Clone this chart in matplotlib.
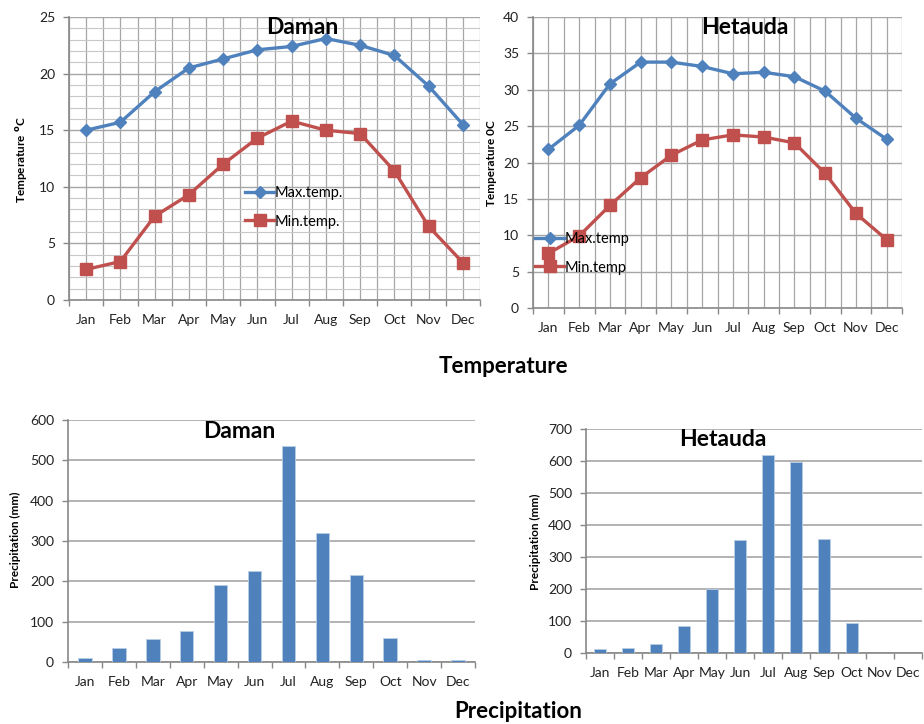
import matplotlib
matplotlib.use("Agg")
import matplotlib.pyplot as plt
from matplotlib.lines import Line2D
import numpy as np

plt.rcParams['font.family'] = ['Lato', 'DejaVu Sans']

months = ["Jan", "Feb", "Mar", "Apr", "May", "Jun", "Jul", "Aug", "Sep", "Oct", "Nov", "Dec"]

daman_max = [15.0, 15.7, 18.4, 20.5, 21.3, 22.1, 22.4, 23.1, 22.5, 21.6, 18.9, 15.5]
daman_min = [2.7, 3.4, 7.4, 9.3, 12.0, 14.3, 15.8, 15.0, 14.7, 11.4, 6.5, 3.3]
hetauda_max = [21.8, 25.1, 30.8, 33.8, 33.8, 33.2, 32.2, 32.4, 31.8, 29.8, 26.1, 23.2]
hetauda_min = [7.5, 9.9, 14.1, 17.9, 21.0, 23.1, 23.8, 23.5, 22.7, 18.5, 13.0, 9.4]
daman_rain = [11, 35, 57, 77, 192, 225, 535, 319, 215, 59, 4, 6]
hetauda_rain = [11, 16, 28, 84, 199, 352, 619, 597, 357, 93, 0, 0]

BLUE = "#4F81BD"
RED = "#C0504D"
GRID = "#A6A6A6"
AXIS = "#888888"
TICK_FS = 10

fig = plt.figure(figsize=(9.24, 7.24), dpi=100)
W, H = 924.0, 724.0


def rect(left, top, right, bottom):
    return [left / W, 1 - bottom / H, (right - left) / W, (bottom - top) / H]


def style_axes(ax, ymax, ystep):
    x = np.arange(len(months))
    ax.set_xlim(-0.5, len(months) - 0.5)
    ax.set_ylim(0, ymax)
    ax.set_xticks(x)
    ax.set_xticklabels(months)
    ax.set_xticks(np.arange(-0.5, len(months)), minor=True)
    ax.set_yticks(np.arange(0, ymax + 0.1, ystep))
    ax.tick_params(axis='x', which='major', length=0, pad=10, labelsize=TICK_FS, colors="#222222")
    ax.tick_params(axis='x', which='minor', length=4, color=AXIS, width=1)
    ax.tick_params(axis='y', which='major', length=4, width=1, labelsize=TICK_FS,
                   labelcolor="#222222", color=AXIS, pad=6)
    for s in ("top", "right"):
        ax.spines[s].set_visible(False)
    for s in ("left", "bottom"):
        ax.spines[s].set_color(AXIS)
        ax.spines[s].set_linewidth(1.2)
    ax.set_axisbelow(True)
    return x


def temp_panel(ax, tmax, tmin, ymax, ystep, yminor, lab_max, lab_min, legend_xy):
    x = style_axes(ax, ymax, ystep)
    ax.grid(axis='x', which='both', color=GRID, linewidth=0.9)
    ax.grid(axis='y', which='major', color=GRID, linewidth=1.0)
    if yminor:
        ax.set_yticks(np.arange(0, ymax + 0.01, yminor), minor=True)
        ax.tick_params(axis='y', which='minor', length=0)
        ax.grid(axis='y', which='minor', color="#C8C8C8", linewidth=0.8)
    ax.plot(x, tmax, color=BLUE, lw=2.4, marker='D', ms=6, mec=BLUE, zorder=3)
    ax.plot(x, tmin, color=RED, lw=2.4, marker='s', ms=8, mec=RED, zorder=3)
    handles = [Line2D([], [], color=BLUE, lw=2.4, marker='D', ms=6),
               Line2D([], [], color=RED, lw=2.4, marker='s', ms=8)]
    fig.legend(handles, [lab_max, lab_min], loc='upper left',
               bbox_to_anchor=(legend_xy[0] / W, 1 - legend_xy[1] / H),
               frameon=False, fontsize=10.5, handlelength=2.0, handletextpad=0.0,
               borderpad=0, borderaxespad=0, labelspacing=1.0)


def rain_panel(ax, rain, ymax, ystep):
    x = style_axes(ax, ymax, ystep)
    ax.grid(axis='y', which='major', color=GRID, linewidth=1.2)
    ax.bar(x, rain, width=0.4, color=BLUE, edgecolor="#B9CDE5", linewidth=0.6, zorder=3)


ax1 = fig.add_axes(rect(69, 17, 480, 300))
temp_panel(ax1, daman_max, daman_min, 25, 5, 1, "Max.temp.", "Min.temp.", (245, 186))

ax2 = fig.add_axes(rect(533, 17, 902, 308))
temp_panel(ax2, hetauda_max, hetauda_min, 40, 5, None, "Max.temp", "Min.temp", (535, 232))

ax3 = fig.add_axes(rect(68, 420, 475, 662))
rain_panel(ax3, daman_rain, 600, 100)

ax4 = fig.add_axes(rect(586, 429, 922, 653))
rain_panel(ax4, hetauda_rain, 700, 100)


def ftext(x, y, s, **kw):
    fig.text(x / W, 1 - y / H, s, **kw)


# Panel titles
ftext(302, 28, "Daman", fontsize=16.5, fontweight='bold', ha='center', va='center')
ftext(745, 28, "Hetauda", fontsize=16.5, fontweight='bold', ha='center', va='center')
ftext(239, 432, "Daman", fontsize=16.5, fontweight='bold', ha='center', va='center')
ftext(723, 440, "Hetauda", fontsize=16.5, fontweight='bold', ha='center', va='center')

# Axis labels
ftext(22, 160, r"Temperature $^{\mathbf{o}}$C", fontsize=8.5, fontweight='bold',
      rotation=90, ha='center', va='center')
ftext(492, 163, "Temperature 0C", fontsize=8.5, fontweight='bold',
      rotation=90, ha='center', va='center')
ftext(15, 540, "Precipitation (mm)", fontsize=8.5, fontweight='bold',
      rotation=90, ha='center', va='center')
ftext(535, 542, "Precipitation (mm)", fontsize=8.5, fontweight='bold',
      rotation=90, ha='center', va='center')

# Section captions
ftext(503, 367, "Temperature", fontsize=16, fontweight='bold', ha='center', va='center')
ftext(518, 712, "Precipitation", fontsize=16, fontweight='bold', ha='center', va='center')

fig.savefig("out.png", dpi=100)
